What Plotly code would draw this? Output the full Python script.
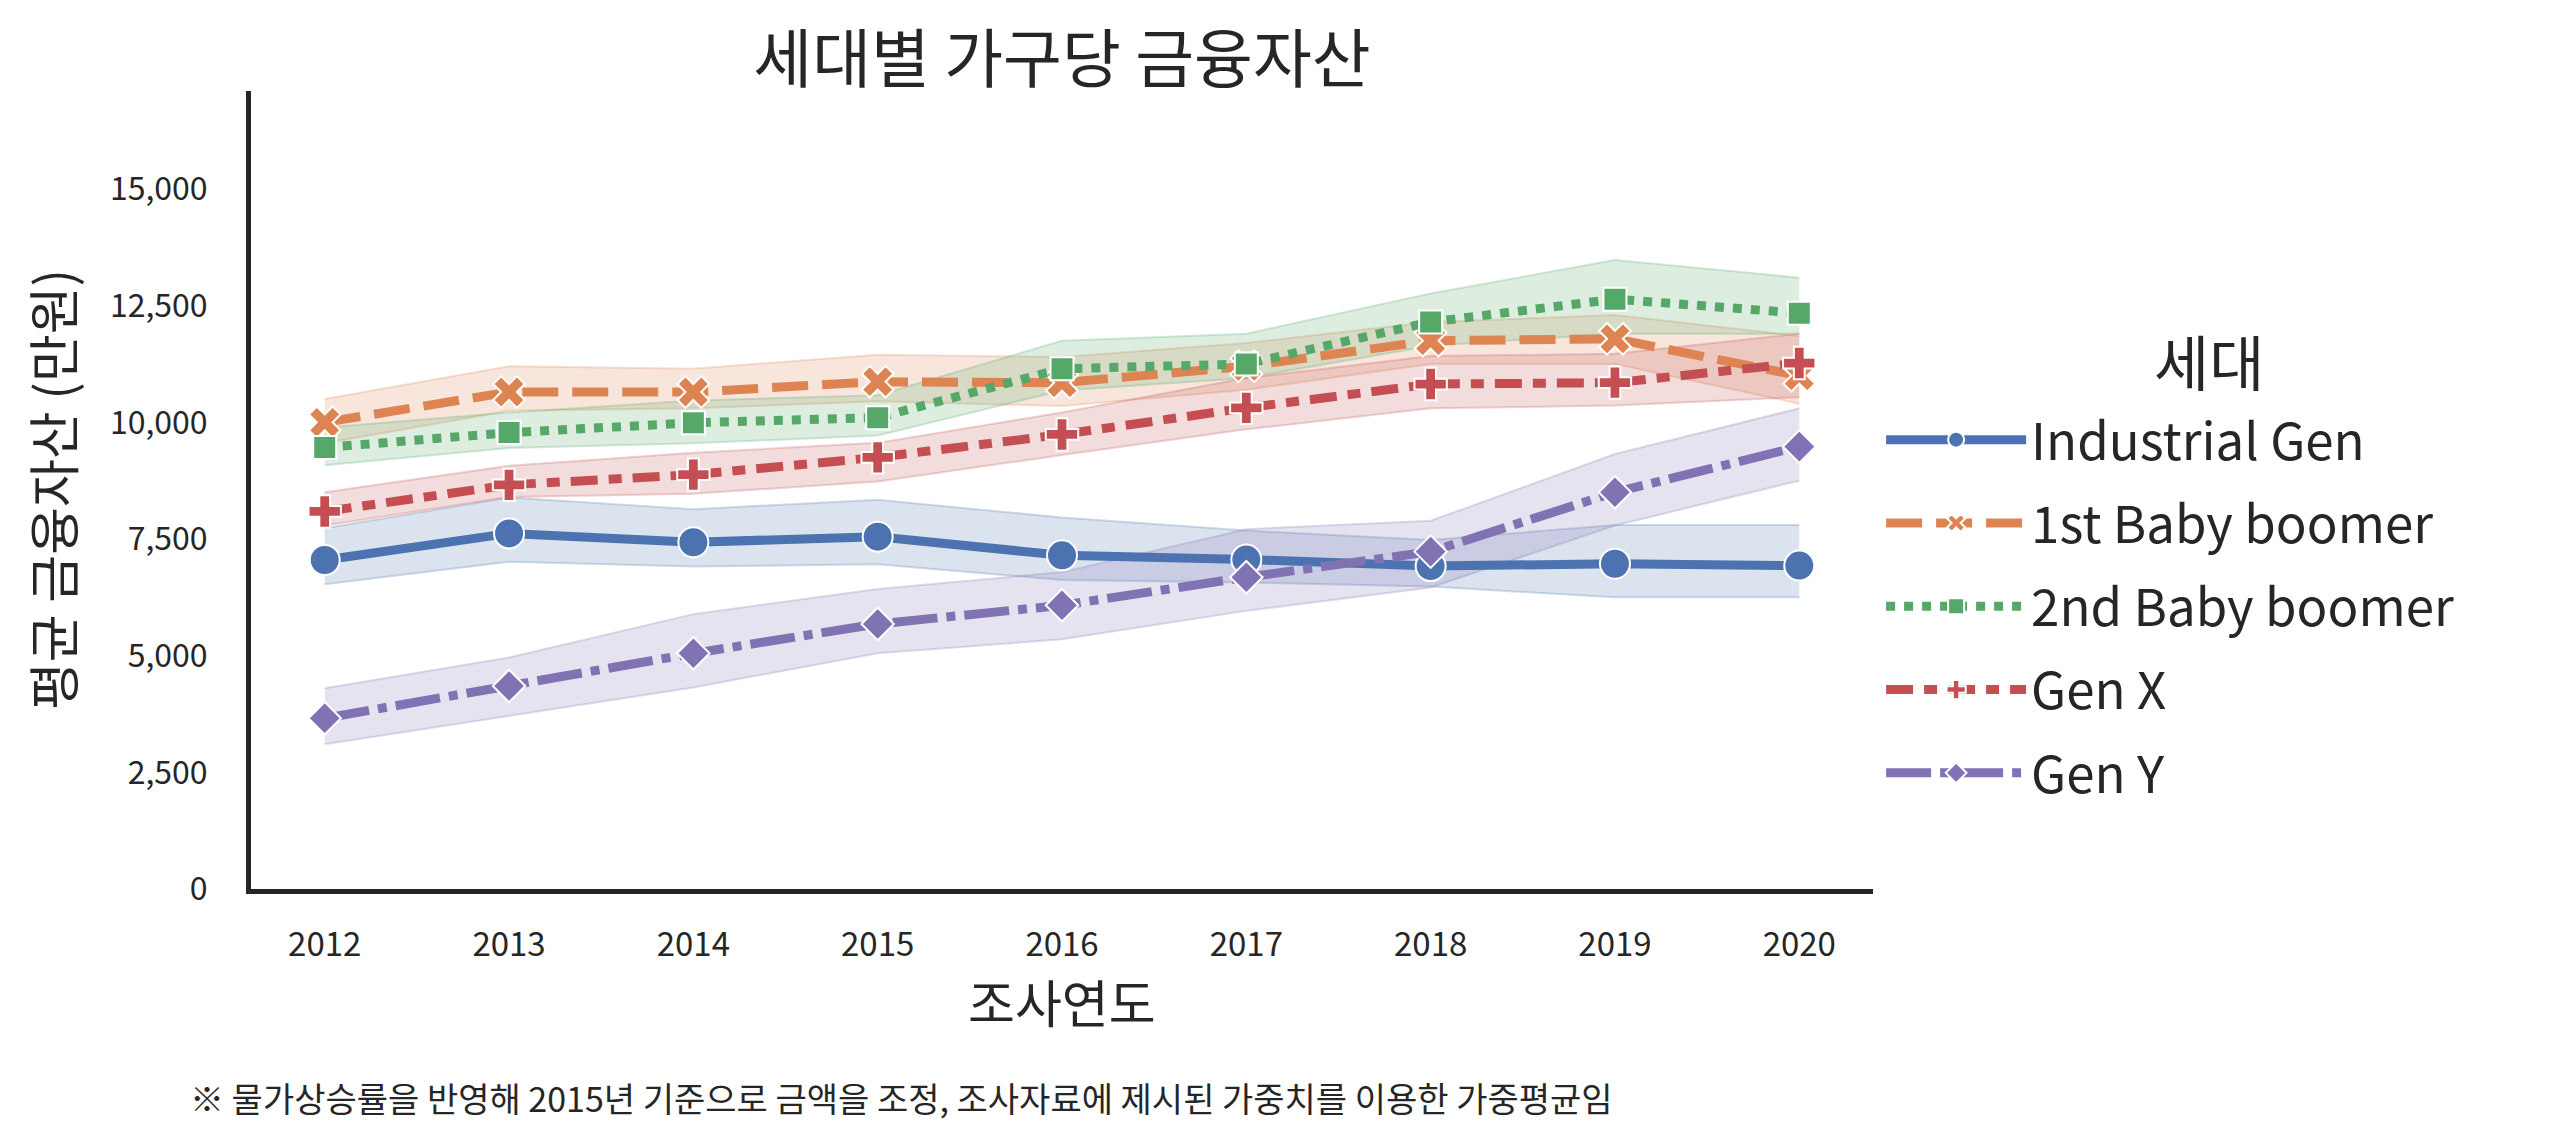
import plotly.graph_objects as go

years = [2012, 2013, 2014, 2015, 2016, 2017, 2018, 2019, 2020]
series_names = ["Industrial Gen", "1st Baby boomer", "2nd Baby boomer", "Gen X", "Gen Y"]

industrial_mean = [7050, 7620, 7430, 7550, 7150, 7060, 6920, 6970, 6930]
industrial_lo   = [6530, 7010, 6910, 6960, 6620, 6570, 6480, 6250, 6250]
industrial_hi   = [7730, 8390, 8140, 8340, 7960, 7680, 7480, 7800, 7800]

boomer1_mean = [10000, 10650, 10650, 10870, 10850, 11200, 11750, 11790, 11000]
boomer1_lo   = [9550, 10250, 10300, 10450, 10350, 10700, 11250, 11250, 10400]
boomer1_hi   = [10500, 11200, 11150, 11450, 11400, 11700, 12150, 12300, 11850]

boomer2_mean = [9460, 9780, 9990, 10100, 11150, 11250, 12150, 12640, 12340]
boomer2_lo   = [9080, 9450, 9550, 9720, 10680, 10950, 11640, 11900, 11900]
boomer2_hi   = [9890, 10210, 10470, 10580, 11750, 11900, 12760, 13480, 13100]

genx_mean = [8090, 8660, 8880, 9250, 9740, 10310, 10820, 10850, 11270]
genx_lo   = [7790, 8400, 8470, 8730, 9300, 9850, 10300, 10360, 10540]
genx_hi   = [8500, 9070, 9350, 9560, 10210, 10950, 11420, 11470, 11900]

geny_mean = [3660, 4350, 5050, 5680, 6080, 6680, 7230, 8500, 9480]
geny_lo   = [3100, 3710, 4320, 5050, 5350, 5960, 6460, 7790, 8750]
geny_hi   = [4300, 4960, 5890, 6430, 6790, 7710, 7890, 9320, 10300]

y_ticks = [0, 2500, 5000, 7500, 10000, 12500, 15000]

means = [industrial_mean, boomer1_mean, boomer2_mean, genx_mean, geny_mean]
lows = [industrial_lo, boomer1_lo, boomer2_lo, genx_lo, geny_lo]
highs = [industrial_hi, boomer1_hi, boomer2_hi, genx_hi, geny_hi]

colors = ["#4C72B0", "#DD8452", "#55A868", "#C44E52", "#8172B3"]
rgba = ["rgba(76,114,176,{a})", "rgba(221,132,82,{a})", "rgba(85,168,104,{a})",
        "rgba(196,78,82,{a})", "rgba(129,114,179,{a})"]
dashes = ["solid", "36px,14px", "9px,9px", "27px,11px,13px,11px", "45px,9px,9px,9px"]
symbols = ["circle", "x", "square", "cross", "diamond"]
msizes = [30, 28, 23, 27, 25]

FONT = "Noto Sans CJK KR"
TXT = "#262626"

# plot-area geometry (px)
L, R, T, B = 243, 695, 83, 254
W, H = 2560, 1135
PW, PH = W - L - R, H - T - B

fig = go.Figure()

# confidence bands
for i in range(5):
    fig.add_trace(go.Scatter(x=years, y=highs[i], mode="lines",
                             line=dict(color=rgba[i].format(a=0.25), width=2),
                             showlegend=False, hoverinfo="skip"))
    fig.add_trace(go.Scatter(x=years, y=lows[i], mode="lines", fill="tonexty",
                             fillcolor=rgba[i].format(a=0.2),
                             line=dict(color=rgba[i].format(a=0.25), width=2),
                             showlegend=False, hoverinfo="skip"))

# mean lines
for i in range(5):
    fig.add_trace(go.Scatter(x=years, y=means[i], mode="lines+markers",
                             name=series_names[i], legendgroup=series_names[i],
                             line=dict(color=colors[i], width=9, dash=dashes[i]),
                             marker=dict(symbol=symbols[i], size=msizes[i], color=colors[i],
                                         line=dict(color="white", width=2))))

fig.update_layout(
    width=W, height=H,
    paper_bgcolor="white", plot_bgcolor="white",
    margin=dict(l=L, r=R, t=T, b=B),
    font=dict(family=FONT, color=TXT),
    title=dict(text="세대별 가구당 금융자산", x=0.5, xref="paper", xanchor="center",
               y=1 - 52 / H, yref="container", yanchor="middle",
               font=dict(size=64, family=FONT, color=TXT)),
    legend=dict(font=dict(size=51, family=FONT, color=TXT),
                x=1.005, xanchor="left", y=(H - B - 392) / PH, yanchor="top",
                tracegroupgap=14, itemwidth=140, bgcolor="rgba(0,0,0,0)"),
    showlegend=True,
)

fig.update_xaxes(range=[2011.6, 2020.4], tickmode="array", tickvals=years,
                 ticktext=[str(y) for y in years],
                 showgrid=False, zeroline=False, showline=True, linecolor=TXT, linewidth=5,
                 ticks="", ticklabelstandoff=22,
                 tickfont=dict(size=33, family=FONT, color=TXT))
fig.update_yaxes(range=[0, 17100], tickmode="array", tickvals=y_ticks,
                 tickformat=",d",
                 showgrid=False, zeroline=False, showline=True, linecolor=TXT, linewidth=5,
                 ticks="", ticklabelstandoff=32,
                 tickfont=dict(size=32, family=FONT, color=TXT))

# legend title
fig.add_annotation(text="세대", xref="paper", yref="paper",
                   x=(2201 - L) / PW, y=(H - B - 351) / PH, xanchor="center", yanchor="middle",
                   showarrow=False, font=dict(size=60, family=FONT, color=TXT))

# axis titles
fig.add_annotation(text="조사연도", xref="paper", yref="paper",
                   x=0.5, y=-(993 - (H - B)) / PH, xanchor="center", yanchor="middle",
                   showarrow=False, font=dict(size=51, family=FONT, color=TXT))
fig.add_annotation(text="평균 금융자산 (만원)", xref="paper", yref="paper",
                   x=(43 - L) / PW, y=0.5, xanchor="center", yanchor="middle", textangle=-90,
                   showarrow=False, font=dict(size=52, family=FONT, color=TXT))

fig.add_annotation(text="※ 물가상승률을 반영해 2015년 기준으로 금액을 조정, 조사자료에 제시된 가중치를 이용한 가중평균임",
                   xref="paper", yref="paper", x=(180 - L) / PW, y=-(1089 - (H - B)) / PH,
                   xanchor="left", yanchor="middle", showarrow=False,
                   font=dict(size=34, family=FONT, color=TXT))

fig.write_html("out.html")
